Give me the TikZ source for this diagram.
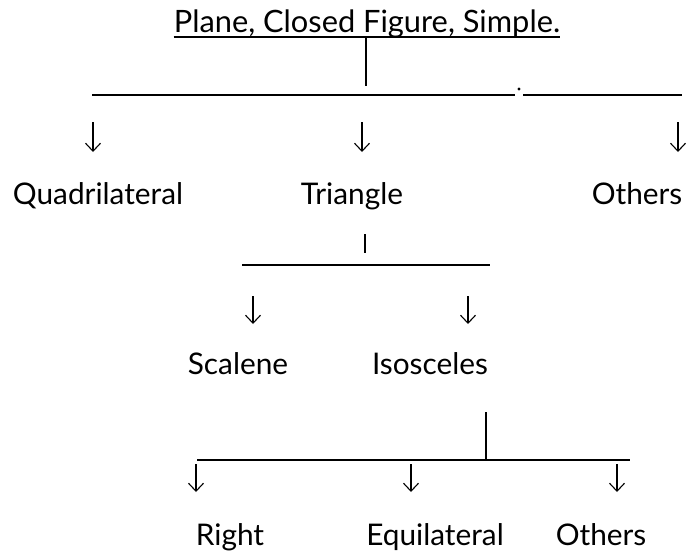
\documentclass[tikz,border=0pt]{standalone}
\usepackage{fontspec}
\setmainfont{Lato}
\usetikzlibrary{arrows.meta}
\begin{document}
\begin{tikzpicture}[x=1pt,y=-1pt,
  lbl/.style={anchor=base, inner sep=0pt, font=\fontsize{29.8}{34}\selectfont},
  ttl/.style={anchor=base, inner sep=0pt, font=\fontsize{30.8}{35}\selectfont},
  rule/.style={line width=1.6pt},
  downarrow/.style={line width=1.1pt, -{Straight Barb[length=8pt,width=15pt,line width=1.1pt]}}]
\useasboundingbox (0,0) rectangle (686,551);
% title
\node[ttl] (title) at (367,33) {Plane, Closed Figure, Simple.};
\coordinate (ulA) at ([yshift=-4pt]title.base west);
\coordinate (ulB) at ([yshift=-4pt]title.base east);
\draw[rule] (ulA) -- (ulB);
\coordinate (v1a) at (366,37);
\coordinate (v1b) at (366,86);
\draw[rule] (v1a) -- (v1b);
% first bar
\coordinate (h1a) at (92,95);
\coordinate (h1b) at (515,95);
\coordinate (h1c) at (523,95);
\coordinate (h1d) at (682,95);
\draw[rule] (h1a) -- (h1b);
\draw[rule] (h1c) -- (h1d);
\fill (519,89) circle (1.6pt);
% level 1 arrows
\coordinate (a1s) at (93,122);  \coordinate (a1e) at (93,152);
\coordinate (a2s) at (362,122); \coordinate (a2e) at (362,152);
\coordinate (a3s) at (678,122); \coordinate (a3e) at (678,152);
\draw[downarrow] (a1s) -- (a1e);
\draw[downarrow] (a2s) -- (a2e);
\draw[downarrow] (a3s) -- (a3e);
% level 1 labels
\node[lbl] (quad) at (98,204) {Quadrilateral};
\node[lbl] (tri) at (352,204) {Triangle};
\node[lbl] (oth1) at (637,204) {Others};
% triangle branch
\coordinate (v2a) at (365,234);
\coordinate (v2b) at (365,253);
\draw[rule] (v2a) -- (v2b);
\coordinate (h2a) at (242,265);
\coordinate (h2b) at (490,265);
\draw[rule] (h2a) -- (h2b);
\coordinate (b1s) at (253,296); \coordinate (b1e) at (253,324);
\coordinate (b2s) at (468,296); \coordinate (b2e) at (468,324);
\draw[downarrow] (b1s) -- (b1e);
\draw[downarrow] (b2s) -- (b2e);
\node[lbl] (scal) at (238,374) {Scalene};
\node[lbl] (isos) at (430,374) {Isosceles};
% isosceles branch
\coordinate (v3a) at (486,412);
\coordinate (v3b) at (486,460);
\draw[rule] (v3a) -- (v3b);
\coordinate (h3a) at (197,460);
\coordinate (h3b) at (630,460);
\draw[rule] (h3a) -- (h3b);
\coordinate (c1s) at (196,464); \coordinate (c1e) at (196,492);
\coordinate (c2s) at (411,464); \coordinate (c2e) at (411,492);
\coordinate (c3s) at (617,464); \coordinate (c3e) at (617,492);
\draw[downarrow] (c1s) -- (c1e);
\draw[downarrow] (c2s) -- (c2e);
\draw[downarrow] (c3s) -- (c3e);
\node[lbl] (right) at (230,545) {Right};
\node[lbl] (equi) at (435,545) {Equilateral};
\node[lbl] (oth2) at (601,545) {Others};
\end{tikzpicture}
\end{document}
